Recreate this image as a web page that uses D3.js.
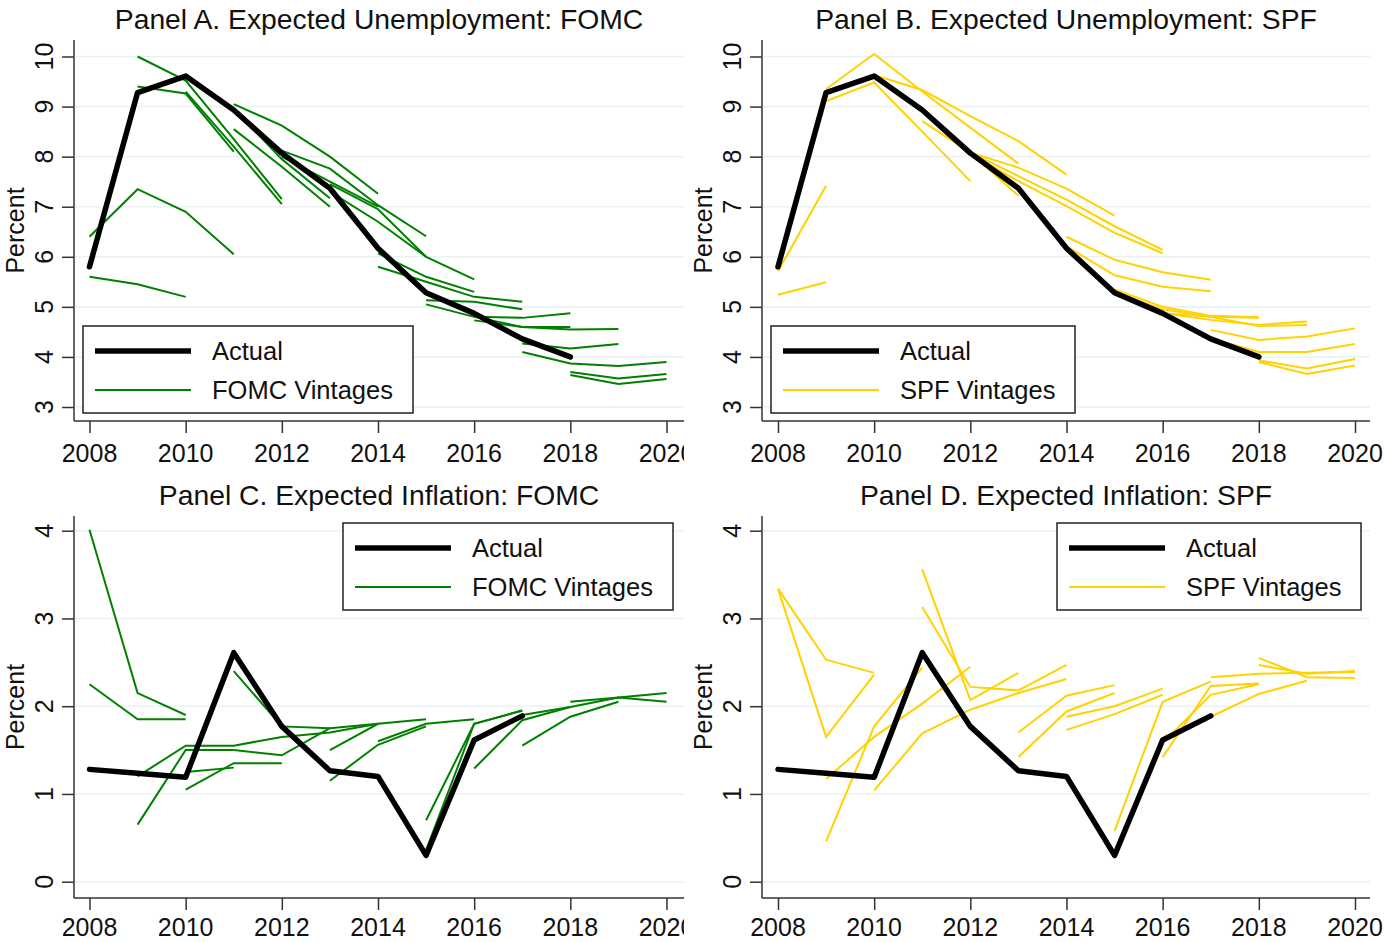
<!DOCTYPE html>
<html>
<head>
<meta charset="utf-8">
<script src="https://cdn.jsdelivr.net/npm/d3@7"></script>
<style>
  body { margin: 0; background: #fff; }
  svg { display: block; font-family: Arial, "Liberation Sans", sans-serif; }
</style>
</head>
<body>
<div id="chart"></div>
<script>
// ---- data -----------------------------------------------------------
const xTicks = [2008, 2010, 2012, 2014, 2016, 2018, 2020];
const unempTicks = [3, 4, 5, 6, 7, 8, 9, 10];
const inflTicks = [0, 1, 2, 3, 4];

// realised values, first year 2008
const unempActual = [5.8, 9.28, 9.61, 8.93, 8.07, 7.37, 6.17, 5.28, 4.87, 4.36, 4.0];
const inflActual = [1.28, 1.235, 1.19, 2.61, 1.77, 1.265, 1.2, 0.3, 1.615, 1.89];

// forecast vintages: first forecast year + path
const fomcUnemp = [
  { start: 2008, values: [5.6, 5.45, 5.2] },
  { start: 2008, values: [6.4, 7.35, 6.9, 6.05] },
  { start: 2009, values: [9.4, 9.26, 8.1] },
  { start: 2009, values: [10.0, 9.52, 8.35, 7.15] },
  { start: 2010, values: [9.3, 8.2, 7.05] },
  { start: 2010, values: [9.6, 8.95, 7.95, 7.17] },
  { start: 2011, values: [8.55, 7.8, 7.0] },
  { start: 2011, values: [9.05, 8.62, 8.0, 7.26] },
  { start: 2012, values: [8.0, 7.5, 7.0] },
  { start: 2012, values: [8.12, 7.76, 7.03, 6.41] },
  { start: 2013, values: [7.45, 6.95, 6.0] },
  { start: 2013, values: [7.3, 6.7, 6.0, 5.55] },
  { start: 2014, values: [6.07, 5.6, 5.3] },
  { start: 2014, values: [5.8, 5.5, 5.2, 5.1] },
  { start: 2015, values: [5.13, 5.1, 4.95] },
  { start: 2015, values: [5.05, 4.8, 4.78, 4.87] },
  { start: 2016, values: [4.73, 4.6, 4.6] },
  { start: 2016, values: [4.8, 4.6, 4.55, 4.56] },
  { start: 2017, values: [4.27, 4.17, 4.26] },
  { start: 2017, values: [4.1, 3.87, 3.82, 3.9] },
  { start: 2018, values: [3.7, 3.57, 3.66] },
  { start: 2018, values: [3.64, 3.46, 3.56] }
];

const spfUnemp = [
  { start: 2008, values: [5.24, 5.49] },
  { start: 2008, values: [5.71, 7.42] },
  { start: 2009, values: [9.11, 9.48, 8.5, 7.51] },
  { start: 2009, values: [9.35, 10.05, 9.3, 8.58, 7.86] },
  { start: 2010, values: [9.63, 9.33, 8.81, 8.31, 7.64] },
  { start: 2011, values: [8.71, 8.08, 7.22] },
  { start: 2012, values: [8.08, 7.78, 7.36, 6.82] },
  { start: 2012, values: [8.08, 7.61, 7.14, 6.61, 6.14] },
  { start: 2012, values: [8.05, 7.51, 7.01, 6.48, 6.07] },
  { start: 2014, values: [6.4, 5.94, 5.69, 5.54] },
  { start: 2014, values: [6.21, 5.63, 5.4, 5.31] },
  { start: 2015, values: [5.35, 5.0, 4.82, 4.79] },
  { start: 2015, values: [5.3, 4.95, 4.8, 4.78] },
  { start: 2016, values: [4.87, 4.74, 4.64, 4.71] },
  { start: 2016, values: [4.87, 4.8, 4.62, 4.64] },
  { start: 2017, values: [4.54, 4.34, 4.41, 4.57] },
  { start: 2017, values: [4.37, 4.1, 4.1, 4.26] },
  { start: 2018, values: [3.93, 3.77, 3.96] },
  { start: 2018, values: [3.9, 3.66, 3.83] }
];

const fomcInfl = [
  { start: 2008, values: [4.01, 2.15, 1.9] },
  { start: 2008, values: [2.25, 1.85, 1.85] },
  { start: 2009, values: [0.65, 1.5, 1.5] },
  { start: 2009, values: [1.2, 1.55, 1.55, 1.65] },
  { start: 2010, values: [1.05, 1.35, 1.35] },
  { start: 2010, values: [1.25, 1.3] },
  { start: 2011, values: [2.4, 1.77, 1.75, 1.8] },
  { start: 2011, values: [1.5, 1.44, 1.75] },
  { start: 2012, values: [1.65, 1.7, 1.8] },
  { start: 2013, values: [1.5, 1.8, 1.85] },
  { start: 2013, values: [1.15, 1.56, 1.77] },
  { start: 2014, values: [1.6, 1.8, 1.85] },
  { start: 2015, values: [0.7, 1.8, 1.95] },
  { start: 2015, values: [0.36, 1.8, 1.95] },
  { start: 2016, values: [1.29, 1.84, 1.99] },
  { start: 2017, values: [1.55, 1.88, 2.05] },
  { start: 2017, values: [1.9, 1.99, 2.1, 2.15] },
  { start: 2018, values: [2.05, 2.1, 2.05] }
];

const spfInfl = [
  { start: 2008, values: [3.34, 2.53, 2.38] },
  { start: 2008, values: [3.34, 1.65, 2.36] },
  { start: 2009, values: [0.46, 1.77, 2.44] },
  { start: 2009, values: [1.17, 1.65, 2.03, 2.45] },
  { start: 2010, values: [1.04, 1.69, 1.96] },
  { start: 2011, values: [3.56, 2.07, 2.38] },
  { start: 2011, values: [3.13, 2.22, 2.18, 2.47] },
  { start: 2012, values: [1.96, 2.15, 2.31] },
  { start: 2013, values: [1.7, 2.12, 2.24] },
  { start: 2013, values: [1.42, 1.94, 2.15] },
  { start: 2014, values: [1.88, 2.0, 2.2] },
  { start: 2014, values: [1.73, 1.91, 2.13] },
  { start: 2015, values: [0.58, 2.05, 2.28] },
  { start: 2016, values: [1.42, 2.23, 2.26] },
  { start: 2016, values: [1.58, 2.13, 2.25] },
  { start: 2017, values: [1.88, 2.14, 2.29] },
  { start: 2017, values: [2.33, 2.37, 2.38, 2.39] },
  { start: 2018, values: [2.55, 2.33, 2.32] },
  { start: 2018, values: [2.47, 2.37, 2.4] }
];

// ---- layout ---------------------------------------------------------
const W = 1384, H = 942;
const FOMC_GREEN = "#008000", SPF_GOLD = "#ffd200";

const panels = [
  { title: "Panel A. Expected Unemployment: FOMC", axisX: 74, x2008: 89.5, right: 684, clip: true,
    top: 40, bottom: 421, labelDy: 41, domain: [3, 10], range: [407, 56.5], ticks: unempTicks,
    actual: unempActual, vintages: fomcUnemp, color: FOMC_GREEN, name: "FOMC Vintages",
    legend: { x: 83, y: 326, w: 330, h: 87 } },
  { title: "Panel B. Expected Unemployment: SPF", axisX: 762, x2008: 778, right: 1370, clip: false,
    top: 40, bottom: 421, labelDy: 41, domain: [3, 10], range: [407, 56.5], ticks: unempTicks,
    actual: unempActual, vintages: spfUnemp, color: SPF_GOLD, name: "SPF Vintages",
    legend: { x: 771, y: 326, w: 304, h: 87 } },
  { title: "Panel C. Expected Inflation: FOMC", axisX: 74, x2008: 89.5, right: 684, clip: true,
    top: 516, bottom: 898, labelDy: 38, domain: [0, 4], range: [881.7, 530.7], ticks: inflTicks,
    actual: inflActual, vintages: fomcInfl, color: FOMC_GREEN, name: "FOMC Vintages",
    legend: { x: 343, y: 523, w: 330, h: 87 } },
  { title: "Panel D. Expected Inflation: SPF", axisX: 762, x2008: 778, right: 1370, clip: false,
    top: 516, bottom: 898, labelDy: 38, domain: [0, 4], range: [881.7, 530.7], ticks: inflTicks,
    actual: inflActual, vintages: spfInfl, color: SPF_GOLD, name: "SPF Vintages",
    legend: { x: 1057, y: 523, w: 304, h: 87 } }
];

const svg = d3.select("#chart").append("svg")
    .attr("width", W)
    .attr("height", H);

svg.append("rect").attr("width", W).attr("height", H).attr("fill", "#fff");

// left-hand graphs are cut at their right border, like the original export
svg.append("defs").append("clipPath").attr("id", "clip-left")
  .append("rect").attr("x", 0).attr("y", 0).attr("width", 684).attr("height", H);

panels.forEach(p => {
    const g = svg.append("g");
    if (p.clip) g.attr("clip-path", "url(#clip-left)");

    const x = d3.scaleLinear().domain([2008, 2020]).range([p.x2008, p.x2008 + 577]);
    const y = d3.scaleLinear().domain(p.domain).range(p.range);

    // title
    g.append("text")
        .attr("x", (p.axisX + p.right) / 2)
        .attr("y", p.top - 11)
        .attr("text-anchor", "middle")
        .attr("font-size", 28.3)
        .attr("fill", "#111")
        .text(p.title);

    // gridlines
    g.selectAll(".grid")
      .data(p.ticks)
      .join("line")
        .attr("x1", p.axisX + 1)
        .attr("x2", p.right)
        .attr("y1", d => y(d))
        .attr("y2", d => y(d))
        .attr("stroke", "#eaf2f3")
        .attr("stroke-width", 1.6);

    // y axis
    const yAxis = g.append("g")
        .attr("transform", `translate(${p.axisX},0)`)
        .call(d3.axisLeft(y).tickValues(p.ticks).tickSize(12).tickFormat(""));
    yAxis.select(".domain")
        .attr("d", `M0,${p.top}V${p.bottom}`)
        .attr("stroke", "#333").attr("stroke-width", 1.5);
    yAxis.selectAll(".tick line").attr("stroke", "#333").attr("stroke-width", 1.5);

    g.selectAll(".ylab")
      .data(p.ticks)
      .join("text")
        .attr("transform", d => `translate(${p.axisX - 21},${y(d)}) rotate(-90)`)
        .attr("text-anchor", "middle")
        .attr("font-size", 25)
        .attr("fill", "#111")
        .text(d => d);

    g.append("text")
        .attr("transform", `translate(${p.axisX - 50},${(p.top + p.bottom) / 2}) rotate(-90)`)
        .attr("text-anchor", "middle")
        .attr("font-size", 25)
        .attr("fill", "#111")
        .text("Percent");

    // x axis
    const xAxis = g.append("g")
        .attr("transform", `translate(0,${p.bottom})`)
        .call(d3.axisBottom(x).tickValues(xTicks).tickSize(12).tickFormat(""));
    xAxis.select(".domain")
        .attr("d", `M${p.axisX},0H${p.right}`)
        .attr("stroke", "#333").attr("stroke-width", 1.5);
    xAxis.selectAll(".tick line").attr("stroke", "#333").attr("stroke-width", 1.5);

    g.selectAll(".xlab")
      .data(xTicks)
      .join("text")
        .attr("x", d => x(d))
        .attr("y", p.bottom + p.labelDy)
        .attr("text-anchor", "middle")
        .attr("font-size", 25)
        .attr("fill", "#111")
        .text(d => d);

    // lines
    const line = d3.line()
        .x(d => x(d.year))
        .y(d => y(d.value));

    g.selectAll(".vintage")
      .data(p.vintages)
      .join("path")
        .attr("class", "vintage")
        .attr("d", v => line(v.values.map((val, k) => ({ year: v.start + k, value: val }))))
        .attr("fill", "none")
        .attr("stroke", p.color)
        .attr("stroke-width", 2);

    g.append("path")
        .attr("d", line(p.actual.map((val, k) => ({ year: 2008 + k, value: val }))))
        .attr("fill", "none")
        .attr("stroke", "#000")
        .attr("stroke-width", 5.5)
        .attr("stroke-linejoin", "round")
        .attr("stroke-linecap", "round");

    // legend
    const L = p.legend;
    const lg = g.append("g").attr("transform", `translate(${L.x},${L.y})`);
    lg.append("rect")
        .attr("width", L.w).attr("height", L.h)
        .attr("fill", "#fff").attr("stroke", "#222").attr("stroke-width", 1.5);
    const entries = [
        { label: "Actual", color: "#000", width: 5.5, dy: 25 },
        { label: p.name, color: p.color, width: 2, dy: 64 }
    ];
    entries.forEach(e => {
        lg.append("line")
            .attr("x1", 12).attr("x2", 108)
            .attr("y1", e.dy).attr("y2", e.dy)
            .attr("stroke", e.color).attr("stroke-width", e.width);
        lg.append("text")
            .attr("x", 129).attr("y", e.dy + 9)
            .attr("font-size", 25.5)
            .attr("fill", "#111")
            .text(e.label);
    });
});
</script>
</body>
</html>
